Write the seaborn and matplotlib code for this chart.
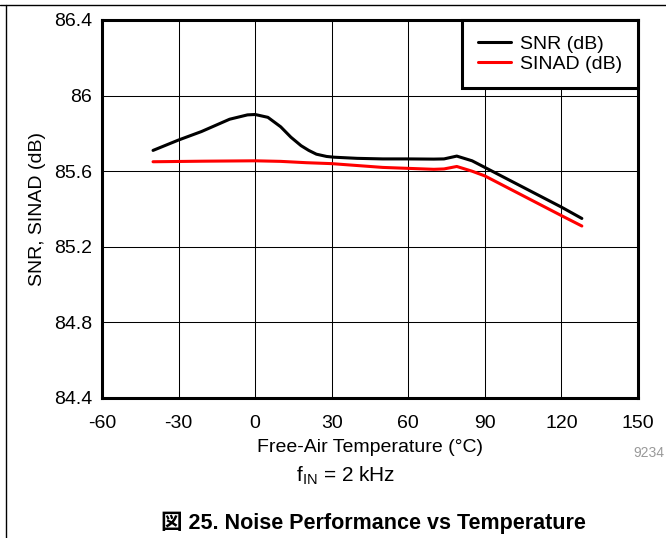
import numpy as np
import pandas as pd
import matplotlib
matplotlib.use("Agg")
import matplotlib.pyplot as plt
from matplotlib.lines import Line2D
import seaborn as sns

# values
snr_temp = [-40, -30, -21, -10, -3, 0, 5, 10, 14, 18, 21, 24, 28, 31, 40, 50, 60, 70, 74, 79, 85, 90, 100, 110, 120, 128]
snr_db = [85.71, 85.765, 85.81, 85.875, 85.898, 85.90, 85.885, 85.835, 85.78, 85.735, 85.71, 85.69, 85.678, 85.674,
          85.668, 85.665, 85.665, 85.664, 85.665, 85.68, 85.655, 85.62, 85.55, 85.48, 85.41, 85.35]
sinad_temp = [-40, -20, 0, 10, 20, 30, 40, 50, 60, 70, 74, 79, 85, 90, 100, 110, 120, 128]
sinad_db = [85.65, 85.653, 85.655, 85.652, 85.645, 85.64, 85.63, 85.62, 85.615, 85.61, 85.612, 85.625, 85.60, 85.575,
            85.505, 85.435, 85.365, 85.31]

x_ticks = [-60, -30, 0, 30, 60, 90, 120, 150]
y_ticks = [84.4, 84.8, 85.2, 85.6, 86.0, 86.4]
y_labels = ["84.4", "84.8", "85.2", "85.6", "86", "86.4"]

sns.set_style("white")
plt.rcParams["font.family"] = ["Liberation Sans", "Noto Sans CJK JP", "DejaVu Sans"]
plt.rcParams["axes.unicode_minus"] = False
plt.rcParams["text.color"] = "black"
plt.rcParams["axes.labelcolor"] = "black"
plt.rcParams["mathtext.fontset"] = "custom"
plt.rcParams["mathtext.rm"] = "Liberation Sans"

df = pd.concat([
    pd.DataFrame({"temp": snr_temp, "value": snr_db, "series": "SNR (dB)"}),
    pd.DataFrame({"temp": sinad_temp, "value": sinad_db, "series": "SINAD (dB)"}),
])

fig = plt.figure(figsize=(6.66, 5.38), dpi=100)
ax = fig.add_axes([102 / 666, 1 - 398 / 538, 536 / 666, 378 / 538])

sns.lineplot(data=df, x="temp", y="value", hue="series", sort=False,
             palette={"SNR (dB)": "black", "SINAD (dB)": "#ff0000"}, linewidth=2.2, ax=ax)

ax.set_xlim(-60, 150)
ax.set_ylim(84.4, 86.4)
ax.set_xticks(x_ticks)
ax.set_yticks(y_ticks)
ax.set_yticklabels(y_labels)
ax.tick_params(length=0, labelsize=14, colors="black")
ax.tick_params(axis="x", pad=12)
ax.tick_params(axis="y", pad=7)
ax.grid(True, color="black", linewidth=0.75)
for sp in ax.spines.values():
    sp.set_linewidth(2.2)
    sp.set_color("black")

ax.set_xlabel("Free-Air Temperature (°C)", fontsize=14, labelpad=5)
ax.set_ylabel("SNR, SINAD (dB)", fontsize=14, labelpad=6)

leg = ax.legend(loc="upper right", fontsize=14, frameon=True, fancybox=False,
                borderaxespad=0, handlelength=1.7, handletextpad=0.5, borderpad=0.8, labelspacing=0.1)
leg.get_frame().set_edgecolor("black")
leg.get_frame().set_linewidth(2.2)
leg.get_frame().set_alpha(1)

fig.text(346 / 666, 1 - 476 / 538, r"f$_{\mathrm{IN}}$ = 2 kHz", ha="center", va="center", fontsize=15)
fig.text(373 / 666, 1 - 523 / 538, "図 25. Noise Performance vs Temperature", ha="center", va="center",
         fontsize=15.5, fontweight="bold")
fig.text(633 / 666, 1 - 453 / 538, "9234", ha="left", va="center", fontsize=10, color="#999999")

fig.add_artist(Line2D([0, 1], [1 - 5 / 538, 1 - 5 / 538], transform=fig.transFigure, color="black", linewidth=1))
fig.add_artist(Line2D([6 / 666, 6 / 666], [0, 1 - 5 / 538], transform=fig.transFigure, color="black", linewidth=1))

fig.savefig("out.png", dpi=100)
